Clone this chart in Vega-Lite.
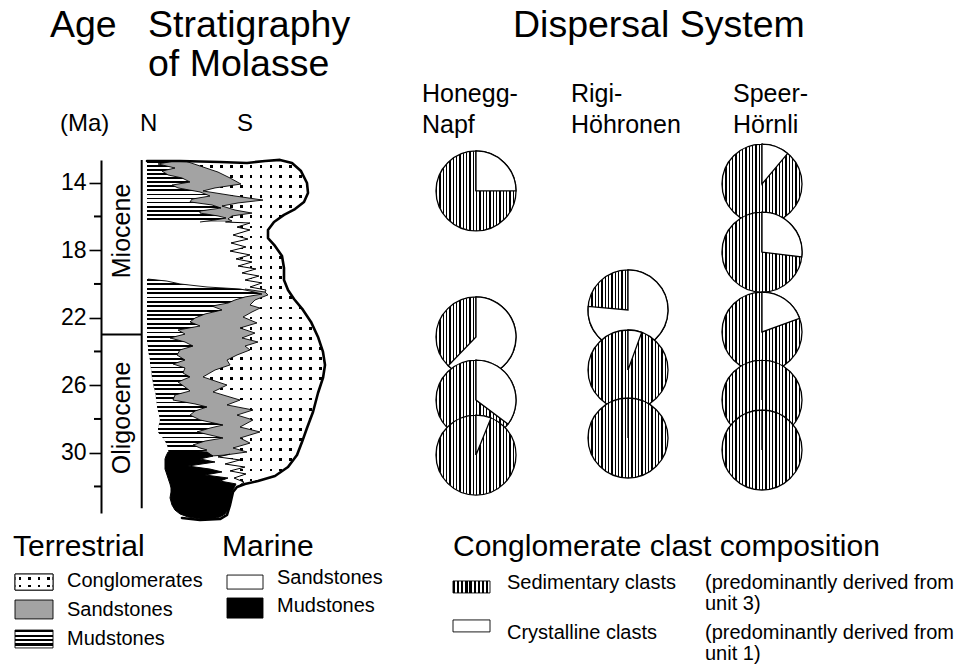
{
"$schema":"https://vega.github.io/schema/vega-lite/v6.json",
"width":879,"height":353,
"autosize":{"type":"none"},
"padding":{"left":101,"top":160,"right":0,"bottom":156},
"background":"white",
"config":{"view":{"stroke":null},"text":{"font":"Liberation Sans","color":"black"}},
"datasets":{
"cong":[
{"age":12.71,"u":4.6,"u2":18.5},{"age":12.83,"u":4.6,"u2":19.1},{"age":13.31,"u":4.6,"u2":20.0},{"age":14.02,"u":4.6,"u2":20.6},{"age":14.61,"u":4.6,"u2":20.7},{"age":15.14,"u":4.6,"u2":20.3},{"age":15.56,"u":4.6,"u2":19.4},{"age":15.91,"u":4.6,"u2":18.3},{"age":16.32,"u":4.6,"u2":17.3},
{"age":16.33,"u":12.5,"u2":17.3},{"age":16.39,"u":14.9,"u2":17.2},{"age":16.63,"u":13.6,"u2":16.9},{"age":16.80,"u":14.9,"u2":16.7},{"age":17.10,"u":13.2,"u2":16.7},{"age":17.34,"u":14.7,"u2":16.8},{"age":17.57,"u":13.0,"u2":17.1},{"age":17.81,"u":14.5,"u2":17.5},{"age":18.05,"u":12.9,"u2":17.8},{"age":18.28,"u":14.9,"u2":18.0},{"age":18.52,"u":13.5,"u2":18.15},{"age":18.70,"u":15.1,"u2":18.2},{"age":18.94,"u":13.7,"u2":18.3},{"age":19.11,"u":15.5,"u2":18.3},{"age":19.35,"u":14.1,"u2":18.3},{"age":19.53,"u":15.8,"u2":18.3},{"age":19.77,"u":14.4,"u2":18.3},{"age":19.94,"u":16.1,"u2":18.4},{"age":20.18,"u":14.9,"u2":18.6},{"age":20.36,"u":16.5,"u2":18.7},{"age":20.48,"u":16.4,"u2":18.8},
{"age":20.49,"u":4.6,"u2":18.8},{"age":20.89,"u":4.6,"u2":19.3},{"age":21.54,"u":4.6,"u2":20.2},{"age":22.25,"u":4.6,"u2":21.0},{"age":23.14,"u":4.6,"u2":21.7},{"age":23.68,"u":4.7,"u2":22.0},{"age":24.03,"u":4.8,"u2":22.2},{"age":24.80,"u":4.9,"u2":22.4},{"age":25.57,"u":5.1,"u2":22.2},{"age":26.46,"u":5.4,"u2":21.7},{"age":27.59,"u":5.7,"u2":21.2},{"age":28.54,"u":5.7,"u2":20.6},{"age":29.37,"u":6.5,"u2":20.1},{"age":30.07,"u":7.0,"u2":19.7},
{"age":30.08,"u":12.9,"u2":19.65},{"age":30.25,"u":11.7,"u2":19.4},{"age":30.43,"u":13.9,"u2":19.25},{"age":30.67,"u":12.4,"u2":18.95},{"age":30.85,"u":14.4,"u2":18.7},{"age":31.08,"u":12.9,"u2":18.15},{"age":31.26,"u":14.5,"u2":17.7},{"age":31.50,"u":13.3,"u2":17.0},{"age":31.74,"u":14.3,"u2":15.3},{"age":31.91,"u":13.9,"u2":14.1}
],
"sand":[
{"blk":1,"age":12.71,"u":4.6,"u2":8.4},{"blk":1,"age":13.01,"u":4.6,"u2":9.9},{"blk":1,"age":13.37,"u":4.6,"u2":11.7},{"blk":1,"age":13.72,"u":4.6,"u2":12.9},{"blk":1,"age":14.08,"u":4.6,"u2":14.0},{"blk":1,"age":14.31,"u":4.6,"u2":11.4},{"blk":1,"age":14.49,"u":4.6,"u2":10.2},{"blk":1,"age":14.79,"u":4.6,"u2":13.4},{"blk":1,"age":15.03,"u":4.6,"u2":16.2},{"blk":1,"age":15.20,"u":4.6,"u2":13.7},{"blk":1,"age":15.38,"u":4.6,"u2":12.1},{"blk":1,"age":15.62,"u":4.6,"u2":13.4},{"blk":1,"age":15.80,"u":4.6,"u2":15.1},{"blk":1,"age":15.97,"u":4.6,"u2":13.1},{"blk":1,"age":16.15,"u":4.6,"u2":12.7},{"blk":1,"age":16.27,"u":4.6,"u2":13.1},{"blk":1,"age":16.33,"u":4.6,"u2":12.4},
{"blk":2,"age":20.30,"u":4.6,"u2":14.4},{"blk":2,"age":20.48,"u":4.6,"u2":16.4},{"blk":2,"age":20.65,"u":4.6,"u2":16.7},{"blk":2,"age":20.95,"u":4.6,"u2":15.4},{"blk":2,"age":21.25,"u":4.6,"u2":14.9},{"blk":2,"age":21.43,"u":4.6,"u2":15.9},{"blk":2,"age":21.66,"u":4.6,"u2":15.1},{"blk":2,"age":21.96,"u":4.6,"u2":14.2},{"blk":2,"age":22.31,"u":4.6,"u2":15.6},{"blk":2,"age":22.61,"u":4.6,"u2":13.9},{"blk":2,"age":22.91,"u":4.6,"u2":15.4},{"blk":2,"age":23.20,"u":4.6,"u2":14.1},{"blk":2,"age":23.44,"u":4.6,"u2":15.7},{"blk":2,"age":23.68,"u":4.7,"u2":14.4},{"blk":2,"age":23.91,"u":4.7,"u2":14.9},{"blk":2,"age":24.21,"u":4.8,"u2":13.6},{"blk":2,"age":24.51,"u":4.9,"u2":12.6},{"blk":2,"age":24.80,"u":4.9,"u2":12.9},{"blk":2,"age":25.10,"u":5.0,"u2":11.4},{"blk":2,"age":25.51,"u":5.1,"u2":10.2},{"blk":2,"age":25.75,"u":5.2,"u2":11.4},{"blk":2,"age":25.99,"u":5.2,"u2":12.6},{"blk":2,"age":26.40,"u":5.4,"u2":11.2},{"blk":2,"age":26.88,"u":5.5,"u2":13.9},{"blk":2,"age":27.17,"u":5.6,"u2":12.6},{"blk":2,"age":27.47,"u":5.7,"u2":15.2},{"blk":2,"age":27.77,"u":5.8,"u2":13.6},{"blk":2,"age":28.06,"u":5.9,"u2":15.2},{"blk":2,"age":28.48,"u":5.7,"u2":13.9},{"blk":2,"age":28.77,"u":5.7,"u2":15.9},{"blk":2,"age":29.13,"u":6.2,"u2":13.9},{"blk":2,"age":29.43,"u":6.5,"u2":14.9},{"blk":2,"age":29.72,"u":6.7,"u2":13.2},{"blk":2,"age":29.96,"u":6.7,"u2":14.6},{"blk":2,"age":30.14,"u":6.9,"u2":12.4},{"blk":2,"age":30.20,"u":7.1,"u2":10.9}
],
"mud":[
{"blk":1,"age":12.71,"u":4.6,"u2":7.4},{"blk":1,"age":12.89,"u":4.6,"u2":5.7},{"blk":1,"age":13.13,"u":4.6,"u2":7.4},{"blk":1,"age":13.31,"u":4.6,"u2":6.1},{"blk":1,"age":13.54,"u":4.6,"u2":6.7},{"blk":1,"age":13.72,"u":4.6,"u2":8.1},{"blk":1,"age":13.96,"u":4.6,"u2":8.9},{"blk":1,"age":14.14,"u":4.6,"u2":7.1},{"blk":1,"age":14.31,"u":4.6,"u2":7.7},{"blk":1,"age":14.55,"u":4.6,"u2":9.9},{"blk":1,"age":14.79,"u":4.6,"u2":10.9},{"blk":1,"age":14.97,"u":4.6,"u2":9.1},{"blk":1,"age":15.14,"u":4.6,"u2":8.9},{"blk":1,"age":15.32,"u":4.6,"u2":11.1},{"blk":1,"age":15.50,"u":4.6,"u2":12.0},{"blk":1,"age":15.68,"u":4.6,"u2":9.9},{"blk":1,"age":15.80,"u":4.6,"u2":9.9},{"blk":1,"age":15.97,"u":4.6,"u2":11.7},{"blk":1,"age":16.09,"u":4.6,"u2":12.5},{"blk":1,"age":16.21,"u":4.6,"u2":11.4},{"blk":1,"age":16.33,"u":4.6,"u2":9.9},
{"blk":2,"age":19.71,"u":4.6,"u2":4.7},{"blk":2,"age":19.83,"u":4.6,"u2":6.6},{"blk":2,"age":20.00,"u":4.6,"u2":7.9},{"blk":2,"age":20.18,"u":4.6,"u2":10.6},{"blk":2,"age":20.30,"u":4.6,"u2":13.9},{"blk":2,"age":20.42,"u":4.6,"u2":14.9},{"blk":2,"age":20.60,"u":4.6,"u2":16.1},{"blk":2,"age":20.77,"u":4.6,"u2":14.4},{"blk":2,"age":20.95,"u":4.6,"u2":13.4},{"blk":2,"age":21.13,"u":4.6,"u2":12.7},{"blk":2,"age":21.31,"u":4.6,"u2":11.1},{"blk":2,"age":21.54,"u":4.6,"u2":12.1},{"blk":2,"age":21.78,"u":4.6,"u2":10.4},{"blk":2,"age":22.02,"u":4.6,"u2":9.4},{"blk":2,"age":22.25,"u":4.6,"u2":8.9},{"blk":2,"age":22.49,"u":4.6,"u2":9.9},{"blk":2,"age":22.73,"u":4.6,"u2":7.7},{"blk":2,"age":22.97,"u":4.6,"u2":8.4},{"blk":2,"age":23.20,"u":4.6,"u2":6.9},{"blk":2,"age":23.44,"u":4.6,"u2":8.4},{"blk":2,"age":23.68,"u":4.7,"u2":9.2},{"blk":2,"age":23.91,"u":4.7,"u2":7.9},{"blk":2,"age":24.21,"u":4.8,"u2":7.6},{"blk":2,"age":24.51,"u":4.9,"u2":8.4},{"blk":2,"age":24.74,"u":4.9,"u2":7.2},{"blk":2,"age":24.98,"u":5.0,"u2":8.4},{"blk":2,"age":25.28,"u":5.1,"u2":8.2},{"blk":2,"age":25.51,"u":5.1,"u2":8.9},{"blk":2,"age":25.81,"u":5.2,"u2":7.7},{"blk":2,"age":26.11,"u":5.3,"u2":8.4},{"blk":2,"age":26.34,"u":5.4,"u2":8.9},{"blk":2,"age":26.58,"u":5.5,"u2":7.4},{"blk":2,"age":26.88,"u":5.5,"u2":7.2},{"blk":2,"age":27.11,"u":5.6,"u2":9.4},{"blk":2,"age":27.29,"u":5.6,"u2":10.6},{"blk":2,"age":27.53,"u":5.7,"u2":9.4},{"blk":2,"age":27.77,"u":5.8,"u2":8.9},{"blk":2,"age":28.06,"u":5.9,"u2":9.9},{"blk":2,"age":28.36,"u":5.8,"u2":12.2},{"blk":2,"age":28.54,"u":5.7,"u2":10.9},{"blk":2,"age":28.77,"u":5.7,"u2":9.6},{"blk":2,"age":28.95,"u":5.9,"u2":10.9},{"blk":2,"age":29.13,"u":6.2,"u2":12.2},{"blk":2,"age":29.31,"u":6.4,"u2":10.4},{"blk":2,"age":29.54,"u":6.6,"u2":9.2},{"blk":2,"age":29.72,"u":6.7,"u2":9.9},{"blk":2,"age":29.84,"u":6.7,"u2":10.6},{"blk":2,"age":30.02,"u":6.9,"u2":9.4},{"blk":2,"age":30.08,"u":7.0,"u2":7.9}
],
"black":[
{"age":29.96,"u":6.7,"u2":10.6},{"age":30.20,"u":6.5,"u2":11.2},{"age":30.37,"u":6.4,"u2":9.9},{"age":30.55,"u":6.4,"u2":11.4},{"age":30.79,"u":6.4,"u2":8.7},{"age":30.97,"u":6.4,"u2":10.9},{"age":31.14,"u":6.5,"u2":12.1},{"age":31.32,"u":6.6,"u2":10.4},{"age":31.50,"u":6.7,"u2":12.7},{"age":31.68,"u":6.8,"u2":11.9},{"age":31.85,"u":6.9,"u2":13.5},{"age":32.09,"u":7.0,"u2":13.3},{"age":32.33,"u":7.0,"u2":13.1},{"age":32.68,"u":6.9,"u2":13.0},{"age":33.10,"u":7.1,"u2":12.9},{"age":33.40,"u":7.4,"u2":12.7},{"age":33.63,"u":7.9,"u2":12.4},{"age":33.81,"u":8.7,"u2":11.9},{"age":33.93,"u":9.9,"u2":11.1}
],
"zz":[
{"seg":1,"age":16.33,"u":12.5},{"seg":1,"age":16.39,"u":14.9},{"seg":1,"age":16.63,"u":13.6},{"seg":1,"age":16.80,"u":14.9},{"seg":1,"age":17.10,"u":13.2},{"seg":1,"age":17.34,"u":14.7},{"seg":1,"age":17.57,"u":13.0},{"seg":1,"age":17.81,"u":14.5},{"seg":1,"age":18.05,"u":12.9},{"seg":1,"age":18.28,"u":14.9},{"seg":1,"age":18.52,"u":13.5},{"seg":1,"age":18.70,"u":15.1},{"seg":1,"age":18.94,"u":13.7},{"seg":1,"age":19.11,"u":15.5},{"seg":1,"age":19.35,"u":14.1},{"seg":1,"age":19.53,"u":15.8},{"seg":1,"age":19.77,"u":14.4},{"seg":1,"age":19.94,"u":16.1},{"seg":1,"age":20.18,"u":14.9},{"seg":1,"age":20.36,"u":16.5},{"seg":1,"age":20.48,"u":16.4},
{"seg":2,"age":30.08,"u":12.9},{"seg":2,"age":30.25,"u":11.7},{"seg":2,"age":30.43,"u":13.9},{"seg":2,"age":30.67,"u":12.4},{"seg":2,"age":30.85,"u":14.4},{"seg":2,"age":31.08,"u":12.9},{"seg":2,"age":31.26,"u":14.5},{"seg":2,"age":31.50,"u":13.3},{"seg":2,"age":31.74,"u":14.3},{"seg":2,"age":31.91,"u":13.9}
],
"env":[
{"i":1,"u":4.6,"age":12.71},{"i":2,"u":7.9,"age":12.71},{"i":3,"u":11.9,"age":12.77},{"i":4,"u":14.6,"age":12.83},{"i":5,"u":16.4,"age":12.71},{"i":6,"u":17.9,"age":12.65},{"i":7,"u":19.1,"age":12.83},{"i":8,"u":20.0,"age":13.31},{"i":9,"u":20.6,"age":14.02},{"i":10,"u":20.7,"age":14.61},{"i":11,"u":20.3,"age":15.14},{"i":12,"u":19.4,"age":15.56},{"i":13,"u":18.3,"age":15.91},{"i":14,"u":17.3,"age":16.33},{"i":15,"u":16.7,"age":16.80},{"i":16,"u":16.7,"age":17.28},{"i":17,"u":17.4,"age":17.75},{"i":18,"u":18.1,"age":18.34},{"i":19,"u":18.3,"age":19.05},{"i":20,"u":18.3,"age":19.77},{"i":21,"u":18.7,"age":20.36},{"i":22,"u":19.3,"age":20.89},{"i":23,"u":20.2,"age":21.54},{"i":24,"u":21.0,"age":22.25},{"i":25,"u":21.7,"age":23.14},{"i":26,"u":22.2,"age":24.03},{"i":27,"u":22.4,"age":24.80},{"i":28,"u":22.2,"age":25.57},{"i":29,"u":21.7,"age":26.46},{"i":30,"u":21.2,"age":27.59},{"i":31,"u":20.6,"age":28.54},{"i":32,"u":20.1,"age":29.37},{"i":33,"u":19.6,"age":30.14},{"i":34,"u":18.7,"age":30.85},{"i":35,"u":17.4,"age":31.38},{"i":36,"u":15.7,"age":31.68},{"i":37,"u":14.4,"age":31.85},{"i":38,"u":13.6,"age":32.03},{"i":39,"u":13.2,"age":32.33},{"i":40,"u":12.9,"age":33.10},{"i":41,"u":12.6,"age":33.69},{"i":42,"u":11.9,"age":33.93},{"i":43,"u":9.9,"age":33.99},{"i":44,"u":8.1,"age":33.87}
],
"frame":[
{"u":4.07,"u2":4.07,"age":12.655,"age2":33.29},{"u":0,"u2":4.07,"age":23.0,"age2":23.0},
{"u":-0.7,"u2":0,"age":16,"age2":16},{"u":-0.7,"u2":0,"age":20,"age2":20},{"u":-0.7,"u2":0,"age":24,"age2":24},{"u":-0.7,"u2":0,"age":28,"age2":28},{"u":-0.7,"u2":0,"age":32,"age2":32}
],
"pies":[
{"sys":"Honegg-Napf","u":37.5,"age":14.49,"k":"sed","a0":0,"a1":360},{"sys":"Honegg-Napf","u":37.5,"age":14.49,"k":"cry","a0":0,"a1":90},
{"sys":"Honegg-Napf","u":37.5,"age":23.14,"k":"sed","a0":0,"a1":360},{"sys":"Honegg-Napf","u":37.5,"age":23.14,"k":"cry","a0":0,"a1":224},
{"sys":"Honegg-Napf","u":37.5,"age":26.88,"k":"sed","a0":0,"a1":360},{"sys":"Honegg-Napf","u":37.5,"age":26.88,"k":"cry","a0":0,"a1":127},
{"sys":"Honegg-Napf","u":37.5,"age":30.14,"k":"sed","a0":0,"a1":360},{"sys":"Honegg-Napf","u":37.5,"age":30.14,"k":"cry","a0":0,"a1":22},
{"sys":"Rigi-Höhronen","u":52.7,"age":21.54,"k":"sed","a0":0,"a1":360},{"sys":"Rigi-Höhronen","u":52.7,"age":21.54,"k":"cry","a0":0,"a1":275},
{"sys":"Rigi-Höhronen","u":52.7,"age":25.10,"k":"sed","a0":0,"a1":360},{"sys":"Rigi-Höhronen","u":52.7,"age":25.10,"k":"cry","a0":0,"a1":20},
{"sys":"Rigi-Höhronen","u":52.7,"age":29.13,"k":"sed","a0":0,"a1":360},
{"sys":"Speer-Hörnli","u":66.1,"age":14.08,"k":"sed","a0":0,"a1":360},{"sys":"Speer-Hörnli","u":66.1,"age":14.08,"k":"cry","a0":0,"a1":40},
{"sys":"Speer-Hörnli","u":66.1,"age":18.11,"k":"sed","a0":0,"a1":360},{"sys":"Speer-Hörnli","u":66.1,"age":18.11,"k":"cry","a0":0,"a1":97},
{"sys":"Speer-Hörnli","u":66.1,"age":22.85,"k":"sed","a0":0,"a1":360},{"sys":"Speer-Hörnli","u":66.1,"age":22.85,"k":"cry","a0":0,"a1":70},
{"sys":"Speer-Hörnli","u":66.1,"age":26.88,"k":"sed","a0":0,"a1":360},
{"sys":"Speer-Hörnli","u":66.1,"age":29.84,"k":"sed","a0":0,"a1":360}
],
"epochs":[{"t":"Miocene","u":2.07,"age":16.86},{"t":"Oligocene","u":2.07,"age":27.94}],
"lab":[
{"role":"head","t":"Age","u":-5.1,"age":5.37},{"role":"head","t":"Stratigraphy","u":4.7,"age":5.37},{"role":"head","t":"of Molasse","u":4.7,"age":7.68},{"role":"head","t":"Dispersal System","u":41.2,"age":5.37},
{"role":"sub","t":"(Ma)","u":-4.1,"age":10.94},{"role":"sub","t":"N","u":3.9,"age":10.94},{"role":"sub","t":"S","u":13.6,"age":10.94},
{"role":"col","t":"Honegg-","u":32.1,"age":9.22},{"role":"col","t":"Napf","u":32.1,"age":11.05},{"role":"col","t":"Rigi-","u":47.0,"age":9.22},{"role":"col","t":"Höhronen","u":47.0,"age":11.05},{"role":"col","t":"Speer-","u":63.2,"age":9.22},{"role":"col","t":"Hörnli","u":63.2,"age":11.05},
{"role":"lh","t":"Terrestrial","u":-8.8,"age":36.12},{"role":"lh","t":"Marine","u":12.1,"age":36.12},{"role":"lh","t":"Conglomerate clast composition","u":35.2,"age":36.12},
{"role":"li","t":"Conglomerates","u":-3.4,"age":37.96},{"role":"li","t":"Sandstones","u":-3.4,"age":39.68},{"role":"li","t":"Mudstones","u":-3.4,"age":41.40},{"role":"li","t":"Sandstones","u":17.6,"age":37.78},{"role":"li","t":"Mudstones","u":17.6,"age":39.44},
{"role":"ri","t":"Sedimentary clasts","u":40.6,"age":38.08},{"role":"ri","t":"(predominantly derived from","u":60.4,"age":38.08},{"role":"ri","t":"unit 3)","u":60.4,"age":39.30},{"role":"ri","t":"Crystalline clasts","u":40.6,"age":41.04},{"role":"ri","t":"(predominantly derived from","u":60.4,"age":41.04},{"role":"ri","t":"unit 1)","u":60.4,"age":42.26}
],
"sw":[
{"kind":"cong","u":-8.6,"u2":-4.8,"age":37.19,"age2":38.14},{"kind":"sand","u":-8.6,"u2":-4.8,"age":38.73,"age2":39.85},{"kind":"mud","u":-8.6,"u2":-4.8,"age":40.51,"age2":41.57},
{"kind":"msand","u":12.6,"u2":16.2,"age":37.25,"age2":38.08},{"kind":"mmud","u":12.6,"u2":16.2,"age":38.61,"age2":39.80},
{"kind":"sed","u":35.2,"u2":38.9,"age":37.60,"age2":38.31},{"kind":"cry","u":35.2,"u2":38.9,"age":39.91,"age2":40.62}
]
},
"encoding":{
"x":{"field":"u","type":"quantitative","stack":null,"scale":{"domain":[0,87.9],"nice":false,"zero":false},"axis":null},
"y":{"field":"age","type":"quantitative","scale":{"domain":[12.655,33.573],"reverse":true,"nice":false,"zero":false},
"axis":{"title":null,"values":[14,18,22,26,30],"grid":false,"domainColor":"black","domainWidth":2,"tickColor":"black","tickWidth":1.6,"tickSize":12,"labelFont":"Liberation Sans","labelFontSize":23,"labelColor":"black","labelPadding":3}}
},
"layer":[
{"data":{"name":"cong"},"mark":{"type":"area","orient":"horizontal","fill":{"gradient":"linear","x1":0,"y1":0,"x2":1,"y2":0,"stops":[
{"offset":0,"color":"#fff"},
{"offset":0.022,"color":"#fff"},{"offset":0.022,"color":"#000"},{"offset":0.037,"color":"#000"},{"offset":0.037,"color":"#fff"},
{"offset":0.0776,"color":"#fff"},{"offset":0.0776,"color":"#000"},{"offset":0.0926,"color":"#000"},{"offset":0.0926,"color":"#fff"},
{"offset":0.1331,"color":"#fff"},{"offset":0.1331,"color":"#000"},{"offset":0.1481,"color":"#000"},{"offset":0.1481,"color":"#fff"},
{"offset":0.1887,"color":"#fff"},{"offset":0.1887,"color":"#000"},{"offset":0.2037,"color":"#000"},{"offset":0.2037,"color":"#fff"},
{"offset":0.2442,"color":"#fff"},{"offset":0.2442,"color":"#000"},{"offset":0.2592,"color":"#000"},{"offset":0.2592,"color":"#fff"},
{"offset":0.2998,"color":"#fff"},{"offset":0.2998,"color":"#000"},{"offset":0.3148,"color":"#000"},{"offset":0.3148,"color":"#fff"},
{"offset":0.3553,"color":"#fff"},{"offset":0.3553,"color":"#000"},{"offset":0.3703,"color":"#000"},{"offset":0.3703,"color":"#fff"},
{"offset":0.4109,"color":"#fff"},{"offset":0.4109,"color":"#000"},{"offset":0.4259,"color":"#000"},{"offset":0.4259,"color":"#fff"},
{"offset":0.4664,"color":"#fff"},{"offset":0.4664,"color":"#000"},{"offset":0.4814,"color":"#000"},{"offset":0.4814,"color":"#fff"},
{"offset":0.522,"color":"#fff"},{"offset":0.522,"color":"#000"},{"offset":0.537,"color":"#000"},{"offset":0.537,"color":"#fff"},
{"offset":0.5776,"color":"#fff"},{"offset":0.5776,"color":"#000"},{"offset":0.5926,"color":"#000"},{"offset":0.5926,"color":"#fff"},
{"offset":0.6331,"color":"#fff"},{"offset":0.6331,"color":"#000"},{"offset":0.6481,"color":"#000"},{"offset":0.6481,"color":"#fff"},
{"offset":0.6887,"color":"#fff"},{"offset":0.6887,"color":"#000"},{"offset":0.7037,"color":"#000"},{"offset":0.7037,"color":"#fff"},
{"offset":0.7442,"color":"#fff"},{"offset":0.7442,"color":"#000"},{"offset":0.7592,"color":"#000"},{"offset":0.7592,"color":"#fff"},
{"offset":0.7998,"color":"#fff"},{"offset":0.7998,"color":"#000"},{"offset":0.8148,"color":"#000"},{"offset":0.8148,"color":"#fff"},
{"offset":0.8553,"color":"#fff"},{"offset":0.8553,"color":"#000"},{"offset":0.8703,"color":"#000"},{"offset":0.8703,"color":"#fff"},
{"offset":0.9109,"color":"#fff"},{"offset":0.9109,"color":"#000"},{"offset":0.9259,"color":"#000"},{"offset":0.9259,"color":"#fff"},
{"offset":0.9664,"color":"#fff"},{"offset":0.9664,"color":"#000"},{"offset":0.9814,"color":"#000"},{"offset":0.9814,"color":"#fff"},
{"offset":1,"color":"#fff"}]}},"encoding":{"x2":{"field":"u2"}}},
{"data":{"name":"cong"},"mark":{"type":"area","orient":"horizontal","fill":{"gradient":"linear","x1":0,"y1":0,"x2":0,"y2":1,"stops":[
{"offset":0,"color":"#fff"},
{"offset":0.012,"color":"#fff"},{"offset":0.012,"color":"rgba(255,255,255,0)"},{"offset":0.0205,"color":"rgba(255,255,255,0)"},{"offset":0.0205,"color":"#fff"},
{"offset":0.04325,"color":"#fff"},{"offset":0.04325,"color":"rgba(255,255,255,0)"},{"offset":0.05175,"color":"rgba(255,255,255,0)"},{"offset":0.05175,"color":"#fff"},
{"offset":0.0745,"color":"#fff"},{"offset":0.0745,"color":"rgba(255,255,255,0)"},{"offset":0.083,"color":"rgba(255,255,255,0)"},{"offset":0.083,"color":"#fff"},
{"offset":0.10575,"color":"#fff"},{"offset":0.10575,"color":"rgba(255,255,255,0)"},{"offset":0.11425,"color":"rgba(255,255,255,0)"},{"offset":0.11425,"color":"#fff"},
{"offset":0.137,"color":"#fff"},{"offset":0.137,"color":"rgba(255,255,255,0)"},{"offset":0.1455,"color":"rgba(255,255,255,0)"},{"offset":0.1455,"color":"#fff"},
{"offset":0.16825,"color":"#fff"},{"offset":0.16825,"color":"rgba(255,255,255,0)"},{"offset":0.17675,"color":"rgba(255,255,255,0)"},{"offset":0.17675,"color":"#fff"},
{"offset":0.1995,"color":"#fff"},{"offset":0.1995,"color":"rgba(255,255,255,0)"},{"offset":0.208,"color":"rgba(255,255,255,0)"},{"offset":0.208,"color":"#fff"},
{"offset":0.23075,"color":"#fff"},{"offset":0.23075,"color":"rgba(255,255,255,0)"},{"offset":0.23925,"color":"rgba(255,255,255,0)"},{"offset":0.23925,"color":"#fff"},
{"offset":0.262,"color":"#fff"},{"offset":0.262,"color":"rgba(255,255,255,0)"},{"offset":0.2705,"color":"rgba(255,255,255,0)"},{"offset":0.2705,"color":"#fff"},
{"offset":0.29325,"color":"#fff"},{"offset":0.29325,"color":"rgba(255,255,255,0)"},{"offset":0.30175,"color":"rgba(255,255,255,0)"},{"offset":0.30175,"color":"#fff"},
{"offset":0.3245,"color":"#fff"},{"offset":0.3245,"color":"rgba(255,255,255,0)"},{"offset":0.333,"color":"rgba(255,255,255,0)"},{"offset":0.333,"color":"#fff"},
{"offset":0.35575,"color":"#fff"},{"offset":0.35575,"color":"rgba(255,255,255,0)"},{"offset":0.36425,"color":"rgba(255,255,255,0)"},{"offset":0.36425,"color":"#fff"},
{"offset":0.387,"color":"#fff"},{"offset":0.387,"color":"rgba(255,255,255,0)"},{"offset":0.3955,"color":"rgba(255,255,255,0)"},{"offset":0.3955,"color":"#fff"},
{"offset":0.41825,"color":"#fff"},{"offset":0.41825,"color":"rgba(255,255,255,0)"},{"offset":0.42675,"color":"rgba(255,255,255,0)"},{"offset":0.42675,"color":"#fff"},
{"offset":0.4495,"color":"#fff"},{"offset":0.4495,"color":"rgba(255,255,255,0)"},{"offset":0.458,"color":"rgba(255,255,255,0)"},{"offset":0.458,"color":"#fff"},
{"offset":0.48075,"color":"#fff"},{"offset":0.48075,"color":"rgba(255,255,255,0)"},{"offset":0.48925,"color":"rgba(255,255,255,0)"},{"offset":0.48925,"color":"#fff"},
{"offset":0.512,"color":"#fff"},{"offset":0.512,"color":"rgba(255,255,255,0)"},{"offset":0.5205,"color":"rgba(255,255,255,0)"},{"offset":0.5205,"color":"#fff"},
{"offset":0.54325,"color":"#fff"},{"offset":0.54325,"color":"rgba(255,255,255,0)"},{"offset":0.55175,"color":"rgba(255,255,255,0)"},{"offset":0.55175,"color":"#fff"},
{"offset":0.5745,"color":"#fff"},{"offset":0.5745,"color":"rgba(255,255,255,0)"},{"offset":0.583,"color":"rgba(255,255,255,0)"},{"offset":0.583,"color":"#fff"},
{"offset":0.60575,"color":"#fff"},{"offset":0.60575,"color":"rgba(255,255,255,0)"},{"offset":0.61425,"color":"rgba(255,255,255,0)"},{"offset":0.61425,"color":"#fff"},
{"offset":0.637,"color":"#fff"},{"offset":0.637,"color":"rgba(255,255,255,0)"},{"offset":0.6455,"color":"rgba(255,255,255,0)"},{"offset":0.6455,"color":"#fff"},
{"offset":0.66825,"color":"#fff"},{"offset":0.66825,"color":"rgba(255,255,255,0)"},{"offset":0.67675,"color":"rgba(255,255,255,0)"},{"offset":0.67675,"color":"#fff"},
{"offset":0.6995,"color":"#fff"},{"offset":0.6995,"color":"rgba(255,255,255,0)"},{"offset":0.708,"color":"rgba(255,255,255,0)"},{"offset":0.708,"color":"#fff"},
{"offset":0.73075,"color":"#fff"},{"offset":0.73075,"color":"rgba(255,255,255,0)"},{"offset":0.73925,"color":"rgba(255,255,255,0)"},{"offset":0.73925,"color":"#fff"},
{"offset":0.762,"color":"#fff"},{"offset":0.762,"color":"rgba(255,255,255,0)"},{"offset":0.7705,"color":"rgba(255,255,255,0)"},{"offset":0.7705,"color":"#fff"},
{"offset":0.79325,"color":"#fff"},{"offset":0.79325,"color":"rgba(255,255,255,0)"},{"offset":0.80175,"color":"rgba(255,255,255,0)"},{"offset":0.80175,"color":"#fff"},
{"offset":0.8245,"color":"#fff"},{"offset":0.8245,"color":"rgba(255,255,255,0)"},{"offset":0.833,"color":"rgba(255,255,255,0)"},{"offset":0.833,"color":"#fff"},
{"offset":0.85575,"color":"#fff"},{"offset":0.85575,"color":"rgba(255,255,255,0)"},{"offset":0.86425,"color":"rgba(255,255,255,0)"},{"offset":0.86425,"color":"#fff"},
{"offset":0.887,"color":"#fff"},{"offset":0.887,"color":"rgba(255,255,255,0)"},{"offset":0.8955,"color":"rgba(255,255,255,0)"},{"offset":0.8955,"color":"#fff"},
{"offset":0.91825,"color":"#fff"},{"offset":0.91825,"color":"rgba(255,255,255,0)"},{"offset":0.92675,"color":"rgba(255,255,255,0)"},{"offset":0.92675,"color":"#fff"},
{"offset":0.9495,"color":"#fff"},{"offset":0.9495,"color":"rgba(255,255,255,0)"},{"offset":0.958,"color":"rgba(255,255,255,0)"},{"offset":0.958,"color":"#fff"},
{"offset":0.98075,"color":"#fff"},{"offset":0.98075,"color":"rgba(255,255,255,0)"},{"offset":0.98925,"color":"rgba(255,255,255,0)"},{"offset":0.98925,"color":"#fff"},
{"offset":1,"color":"#fff"}]}},"encoding":{"x2":{"field":"u2"}}},
{"data":{"name":"sand"},"mark":{"type":"area","orient":"horizontal","fill":"#a3a3a3"},"encoding":{"x2":{"field":"u2"},"detail":{"field":"blk","type":"nominal"}}},
{"data":{"name":"mud"},"transform":[{"filter":"datum.blk === 1"}],"mark":{"type":"area","orient":"horizontal","fill":{"gradient":"linear","x1":0,"y1":0,"x2":0,"y2":1,"stops":[
{"offset":0,"color":"#000"},{"offset":0.03,"color":"#000"},{"offset":0.03,"color":"#fff"},{"offset":0.0667,"color":"#fff"},
{"offset":0.0667,"color":"#000"},{"offset":0.0967,"color":"#000"},{"offset":0.0967,"color":"#fff"},{"offset":0.1333,"color":"#fff"},
{"offset":0.1333,"color":"#000"},{"offset":0.1633,"color":"#000"},{"offset":0.1633,"color":"#fff"},{"offset":0.2,"color":"#fff"},
{"offset":0.2,"color":"#000"},{"offset":0.23,"color":"#000"},{"offset":0.23,"color":"#fff"},{"offset":0.2667,"color":"#fff"},
{"offset":0.2667,"color":"#000"},{"offset":0.2967,"color":"#000"},{"offset":0.2967,"color":"#fff"},{"offset":0.3333,"color":"#fff"},
{"offset":0.3333,"color":"#000"},{"offset":0.3633,"color":"#000"},{"offset":0.3633,"color":"#fff"},{"offset":0.4,"color":"#fff"},
{"offset":0.4,"color":"#000"},{"offset":0.43,"color":"#000"},{"offset":0.43,"color":"#fff"},{"offset":0.4667,"color":"#fff"},
{"offset":0.4667,"color":"#000"},{"offset":0.4967,"color":"#000"},{"offset":0.4967,"color":"#fff"},{"offset":0.5333,"color":"#fff"},
{"offset":0.5333,"color":"#000"},{"offset":0.5633,"color":"#000"},{"offset":0.5633,"color":"#fff"},{"offset":0.6,"color":"#fff"},
{"offset":0.6,"color":"#000"},{"offset":0.63,"color":"#000"},{"offset":0.63,"color":"#fff"},{"offset":0.6667,"color":"#fff"},
{"offset":0.6667,"color":"#000"},{"offset":0.6967,"color":"#000"},{"offset":0.6967,"color":"#fff"},{"offset":0.7333,"color":"#fff"},
{"offset":0.7333,"color":"#000"},{"offset":0.7633,"color":"#000"},{"offset":0.7633,"color":"#fff"},{"offset":0.8,"color":"#fff"},
{"offset":0.8,"color":"#000"},{"offset":0.83,"color":"#000"},{"offset":0.83,"color":"#fff"},{"offset":0.8667,"color":"#fff"},
{"offset":0.8667,"color":"#000"},{"offset":0.8967,"color":"#000"},{"offset":0.8967,"color":"#fff"},{"offset":0.9333,"color":"#fff"},
{"offset":0.9333,"color":"#000"},{"offset":0.9633,"color":"#000"},{"offset":0.9633,"color":"#fff"},{"offset":1,"color":"#fff"}]}},"encoding":{"x2":{"field":"u2"}}},
{"data":{"name":"mud"},"transform":[{"filter":"datum.blk === 2"}],"mark":{"type":"area","orient":"horizontal","fill":{"gradient":"linear","x1":0,"y1":0,"x2":0,"y2":1,"stops":[
{"offset":0,"color":"#000"},{"offset":0.0105,"color":"#000"},{"offset":0.0105,"color":"#fff"},{"offset":0.025,"color":"#fff"},
{"offset":0.025,"color":"#000"},{"offset":0.0355,"color":"#000"},{"offset":0.0355,"color":"#fff"},{"offset":0.05,"color":"#fff"},
{"offset":0.05,"color":"#000"},{"offset":0.0605,"color":"#000"},{"offset":0.0605,"color":"#fff"},{"offset":0.075,"color":"#fff"},
{"offset":0.075,"color":"#000"},{"offset":0.0855,"color":"#000"},{"offset":0.0855,"color":"#fff"},{"offset":0.1,"color":"#fff"},
{"offset":0.1,"color":"#000"},{"offset":0.1105,"color":"#000"},{"offset":0.1105,"color":"#fff"},{"offset":0.125,"color":"#fff"},
{"offset":0.125,"color":"#000"},{"offset":0.1355,"color":"#000"},{"offset":0.1355,"color":"#fff"},{"offset":0.15,"color":"#fff"},
{"offset":0.15,"color":"#000"},{"offset":0.1605,"color":"#000"},{"offset":0.1605,"color":"#fff"},{"offset":0.175,"color":"#fff"},
{"offset":0.175,"color":"#000"},{"offset":0.1855,"color":"#000"},{"offset":0.1855,"color":"#fff"},{"offset":0.2,"color":"#fff"},
{"offset":0.2,"color":"#000"},{"offset":0.2105,"color":"#000"},{"offset":0.2105,"color":"#fff"},{"offset":0.225,"color":"#fff"},
{"offset":0.225,"color":"#000"},{"offset":0.2355,"color":"#000"},{"offset":0.2355,"color":"#fff"},{"offset":0.25,"color":"#fff"},
{"offset":0.25,"color":"#000"},{"offset":0.2605,"color":"#000"},{"offset":0.2605,"color":"#fff"},{"offset":0.275,"color":"#fff"},
{"offset":0.275,"color":"#000"},{"offset":0.2855,"color":"#000"},{"offset":0.2855,"color":"#fff"},{"offset":0.3,"color":"#fff"},
{"offset":0.3,"color":"#000"},{"offset":0.3105,"color":"#000"},{"offset":0.3105,"color":"#fff"},{"offset":0.325,"color":"#fff"},
{"offset":0.325,"color":"#000"},{"offset":0.3355,"color":"#000"},{"offset":0.3355,"color":"#fff"},{"offset":0.35,"color":"#fff"},
{"offset":0.35,"color":"#000"},{"offset":0.3605,"color":"#000"},{"offset":0.3605,"color":"#fff"},{"offset":0.375,"color":"#fff"},
{"offset":0.375,"color":"#000"},{"offset":0.3855,"color":"#000"},{"offset":0.3855,"color":"#fff"},{"offset":0.4,"color":"#fff"},
{"offset":0.4,"color":"#000"},{"offset":0.4105,"color":"#000"},{"offset":0.4105,"color":"#fff"},{"offset":0.425,"color":"#fff"},
{"offset":0.425,"color":"#000"},{"offset":0.4355,"color":"#000"},{"offset":0.4355,"color":"#fff"},{"offset":0.45,"color":"#fff"},
{"offset":0.45,"color":"#000"},{"offset":0.4605,"color":"#000"},{"offset":0.4605,"color":"#fff"},{"offset":0.475,"color":"#fff"},
{"offset":0.475,"color":"#000"},{"offset":0.4855,"color":"#000"},{"offset":0.4855,"color":"#fff"},{"offset":0.5,"color":"#fff"},
{"offset":0.5,"color":"#000"},{"offset":0.5105,"color":"#000"},{"offset":0.5105,"color":"#fff"},{"offset":0.525,"color":"#fff"},
{"offset":0.525,"color":"#000"},{"offset":0.5355,"color":"#000"},{"offset":0.5355,"color":"#fff"},{"offset":0.55,"color":"#fff"},
{"offset":0.55,"color":"#000"},{"offset":0.5605,"color":"#000"},{"offset":0.5605,"color":"#fff"},{"offset":0.575,"color":"#fff"},
{"offset":0.575,"color":"#000"},{"offset":0.5855,"color":"#000"},{"offset":0.5855,"color":"#fff"},{"offset":0.6,"color":"#fff"},
{"offset":0.6,"color":"#000"},{"offset":0.6105,"color":"#000"},{"offset":0.6105,"color":"#fff"},{"offset":0.625,"color":"#fff"},
{"offset":0.625,"color":"#000"},{"offset":0.6355,"color":"#000"},{"offset":0.6355,"color":"#fff"},{"offset":0.65,"color":"#fff"},
{"offset":0.65,"color":"#000"},{"offset":0.6605,"color":"#000"},{"offset":0.6605,"color":"#fff"},{"offset":0.675,"color":"#fff"},
{"offset":0.675,"color":"#000"},{"offset":0.6855,"color":"#000"},{"offset":0.6855,"color":"#fff"},{"offset":0.7,"color":"#fff"},
{"offset":0.7,"color":"#000"},{"offset":0.7105,"color":"#000"},{"offset":0.7105,"color":"#fff"},{"offset":0.725,"color":"#fff"},
{"offset":0.725,"color":"#000"},{"offset":0.7355,"color":"#000"},{"offset":0.7355,"color":"#fff"},{"offset":0.75,"color":"#fff"},
{"offset":0.75,"color":"#000"},{"offset":0.7605,"color":"#000"},{"offset":0.7605,"color":"#fff"},{"offset":0.775,"color":"#fff"},
{"offset":0.775,"color":"#000"},{"offset":0.7855,"color":"#000"},{"offset":0.7855,"color":"#fff"},{"offset":0.8,"color":"#fff"},
{"offset":0.8,"color":"#000"},{"offset":0.8105,"color":"#000"},{"offset":0.8105,"color":"#fff"},{"offset":0.825,"color":"#fff"},
{"offset":0.825,"color":"#000"},{"offset":0.8355,"color":"#000"},{"offset":0.8355,"color":"#fff"},{"offset":0.85,"color":"#fff"},
{"offset":0.85,"color":"#000"},{"offset":0.8605,"color":"#000"},{"offset":0.8605,"color":"#fff"},{"offset":0.875,"color":"#fff"},
{"offset":0.875,"color":"#000"},{"offset":0.8855,"color":"#000"},{"offset":0.8855,"color":"#fff"},{"offset":0.9,"color":"#fff"},
{"offset":0.9,"color":"#000"},{"offset":0.9105,"color":"#000"},{"offset":0.9105,"color":"#fff"},{"offset":0.925,"color":"#fff"},
{"offset":0.925,"color":"#000"},{"offset":0.9355,"color":"#000"},{"offset":0.9355,"color":"#fff"},{"offset":0.95,"color":"#fff"},
{"offset":0.95,"color":"#000"},{"offset":0.9605,"color":"#000"},{"offset":0.9605,"color":"#fff"},{"offset":0.975,"color":"#fff"},
{"offset":0.975,"color":"#000"},{"offset":0.9855,"color":"#000"},{"offset":0.9855,"color":"#fff"},{"offset":1,"color":"#fff"}]}},"encoding":{"x2":{"field":"u2"}}},
{"data":{"name":"black"},"mark":{"type":"area","orient":"horizontal","fill":"black","stroke":"black","strokeWidth":1},"encoding":{"x2":{"field":"u2"}}},
{"data":{"name":"sand"},"mark":{"type":"line","color":"black","strokeWidth":0.9},"encoding":{"x":{"field":"u2","type":"quantitative","axis":null},"detail":{"field":"blk","type":"nominal"},"order":{"field":"age","type":"quantitative"}}},
{"data":{"name":"mud"},"mark":{"type":"line","color":"black","strokeWidth":0.9},"encoding":{"x":{"field":"u2","type":"quantitative","axis":null},"detail":{"field":"blk","type":"nominal"},"order":{"field":"age","type":"quantitative"}}},
{"data":{"name":"zz"},"mark":{"type":"line","color":"black","strokeWidth":1},"encoding":{"detail":{"field":"seg","type":"nominal"},"order":{"field":"age","type":"quantitative"}}},
{"data":{"name":"env"},"mark":{"type":"line","color":"black","strokeWidth":2.6,"strokeJoin":"round","strokeCap":"round"},"encoding":{"order":{"field":"i","type":"quantitative"}}},
{"data":{"name":"frame"},"mark":{"type":"rule","color":"black","strokeWidth":2},"encoding":{"x2":{"field":"u2"},"y2":{"field":"age2"}}},
{"data":{"name":"pies"},"mark":{"type":"arc","radius":40,"stroke":"black","strokeWidth":1.3},"encoding":{
"theta":{"field":"a0","type":"quantitative","stack":null,"scale":{"domain":[0,360],"range":[0,6.283185]}},
"theta2":{"field":"a1"},
"fill":{"condition":{"test":"datum.k === 'sed'","value":{"gradient":"linear","x1":0,"y1":0,"x2":1,"y2":0,"stops":[
{"offset":0,"color":"#000"},{"offset":0.0167,"color":"#000"},{"offset":0.0167,"color":"#fff"},{"offset":0.0417,"color":"#fff"},
{"offset":0.0417,"color":"#000"},{"offset":0.0583,"color":"#000"},{"offset":0.0583,"color":"#fff"},{"offset":0.0833,"color":"#fff"},
{"offset":0.0833,"color":"#000"},{"offset":0.1,"color":"#000"},{"offset":0.1,"color":"#fff"},{"offset":0.125,"color":"#fff"},
{"offset":0.125,"color":"#000"},{"offset":0.1417,"color":"#000"},{"offset":0.1417,"color":"#fff"},{"offset":0.1667,"color":"#fff"},
{"offset":0.1667,"color":"#000"},{"offset":0.1833,"color":"#000"},{"offset":0.1833,"color":"#fff"},{"offset":0.2083,"color":"#fff"},
{"offset":0.2083,"color":"#000"},{"offset":0.225,"color":"#000"},{"offset":0.225,"color":"#fff"},{"offset":0.25,"color":"#fff"},
{"offset":0.25,"color":"#000"},{"offset":0.2667,"color":"#000"},{"offset":0.2667,"color":"#fff"},{"offset":0.2917,"color":"#fff"},
{"offset":0.2917,"color":"#000"},{"offset":0.3083,"color":"#000"},{"offset":0.3083,"color":"#fff"},{"offset":0.3333,"color":"#fff"},
{"offset":0.3333,"color":"#000"},{"offset":0.35,"color":"#000"},{"offset":0.35,"color":"#fff"},{"offset":0.375,"color":"#fff"},
{"offset":0.375,"color":"#000"},{"offset":0.3917,"color":"#000"},{"offset":0.3917,"color":"#fff"},{"offset":0.4167,"color":"#fff"},
{"offset":0.4167,"color":"#000"},{"offset":0.4333,"color":"#000"},{"offset":0.4333,"color":"#fff"},{"offset":0.4583,"color":"#fff"},
{"offset":0.4583,"color":"#000"},{"offset":0.475,"color":"#000"},{"offset":0.475,"color":"#fff"},{"offset":0.5,"color":"#fff"},
{"offset":0.5,"color":"#000"},{"offset":0.5167,"color":"#000"},{"offset":0.5167,"color":"#fff"},{"offset":0.5417,"color":"#fff"},
{"offset":0.5417,"color":"#000"},{"offset":0.5583,"color":"#000"},{"offset":0.5583,"color":"#fff"},{"offset":0.5833,"color":"#fff"},
{"offset":0.5833,"color":"#000"},{"offset":0.6,"color":"#000"},{"offset":0.6,"color":"#fff"},{"offset":0.625,"color":"#fff"},
{"offset":0.625,"color":"#000"},{"offset":0.6417,"color":"#000"},{"offset":0.6417,"color":"#fff"},{"offset":0.6667,"color":"#fff"},
{"offset":0.6667,"color":"#000"},{"offset":0.6833,"color":"#000"},{"offset":0.6833,"color":"#fff"},{"offset":0.7083,"color":"#fff"},
{"offset":0.7083,"color":"#000"},{"offset":0.725,"color":"#000"},{"offset":0.725,"color":"#fff"},{"offset":0.75,"color":"#fff"},
{"offset":0.75,"color":"#000"},{"offset":0.7667,"color":"#000"},{"offset":0.7667,"color":"#fff"},{"offset":0.7917,"color":"#fff"},
{"offset":0.7917,"color":"#000"},{"offset":0.8083,"color":"#000"},{"offset":0.8083,"color":"#fff"},{"offset":0.8333,"color":"#fff"},
{"offset":0.8333,"color":"#000"},{"offset":0.85,"color":"#000"},{"offset":0.85,"color":"#fff"},{"offset":0.875,"color":"#fff"},
{"offset":0.875,"color":"#000"},{"offset":0.8917,"color":"#000"},{"offset":0.8917,"color":"#fff"},{"offset":0.9167,"color":"#fff"},
{"offset":0.9167,"color":"#000"},{"offset":0.9333,"color":"#000"},{"offset":0.9333,"color":"#fff"},{"offset":0.9583,"color":"#fff"},
{"offset":0.9583,"color":"#000"},{"offset":0.975,"color":"#000"},{"offset":0.975,"color":"#fff"},{"offset":1,"color":"#fff"}]}},"value":"white"}}},
{"data":{"name":"sw"},"mark":{"type":"rect","stroke":"black","strokeWidth":0.9},"encoding":{"x2":{"field":"u2"},"y2":{"field":"age2"},
"fill":{"condition":[
{"test":"datum.kind === 'sand'","value":"#a3a3a3"},
{"test":"datum.kind === 'mmud'","value":"black"},
{"test":"datum.kind === 'cong'","value":{"gradient":"linear","x1":0,"y1":0,"x2":1,"y2":0,"stops":[
{"offset":0,"color":"#fff"},{"offset":0.1,"color":"#fff"},{"offset":0.1,"color":"#000"},{"offset":0.165,"color":"#000"},{"offset":0.165,"color":"#fff"},
{"offset":0.35,"color":"#fff"},{"offset":0.35,"color":"#000"},{"offset":0.415,"color":"#000"},{"offset":0.415,"color":"#fff"},
{"offset":0.6,"color":"#fff"},{"offset":0.6,"color":"#000"},{"offset":0.665,"color":"#000"},{"offset":0.665,"color":"#fff"},
{"offset":0.85,"color":"#fff"},{"offset":0.85,"color":"#000"},{"offset":0.915,"color":"#000"},{"offset":0.915,"color":"#fff"},{"offset":1,"color":"#fff"}]}},
{"test":"datum.kind === 'mud'","value":{"gradient":"linear","x1":0,"y1":0,"x2":0,"y2":1,"stops":[
{"offset":0,"color":"#000"},{"offset":0.12,"color":"#000"},{"offset":0.12,"color":"#fff"},{"offset":0.25,"color":"#fff"},
{"offset":0.25,"color":"#000"},{"offset":0.37,"color":"#000"},{"offset":0.37,"color":"#fff"},{"offset":0.5,"color":"#fff"},
{"offset":0.5,"color":"#000"},{"offset":0.62,"color":"#000"},{"offset":0.62,"color":"#fff"},{"offset":0.75,"color":"#fff"},
{"offset":0.75,"color":"#000"},{"offset":0.87,"color":"#000"},{"offset":0.87,"color":"#fff"},{"offset":1,"color":"#fff"}]}},
{"test":"datum.kind === 'sed'","value":{"gradient":"linear","x1":0,"y1":0,"x2":1,"y2":0,"stops":[
{"offset":0,"color":"#000"},{"offset":0.06,"color":"#000"},{"offset":0.06,"color":"#fff"},{"offset":0.1111,"color":"#fff"},
{"offset":0.1111,"color":"#000"},{"offset":0.1711,"color":"#000"},{"offset":0.1711,"color":"#fff"},{"offset":0.2222,"color":"#fff"},
{"offset":0.2222,"color":"#000"},{"offset":0.2822,"color":"#000"},{"offset":0.2822,"color":"#fff"},{"offset":0.3333,"color":"#fff"},
{"offset":0.3333,"color":"#000"},{"offset":0.3933,"color":"#000"},{"offset":0.3933,"color":"#fff"},{"offset":0.4444,"color":"#fff"},
{"offset":0.4444,"color":"#000"},{"offset":0.5044,"color":"#000"},{"offset":0.5044,"color":"#fff"},{"offset":0.5556,"color":"#fff"},
{"offset":0.5556,"color":"#000"},{"offset":0.6156,"color":"#000"},{"offset":0.6156,"color":"#fff"},{"offset":0.6667,"color":"#fff"},
{"offset":0.6667,"color":"#000"},{"offset":0.7267,"color":"#000"},{"offset":0.7267,"color":"#fff"},{"offset":0.7778,"color":"#fff"},
{"offset":0.7778,"color":"#000"},{"offset":0.8378,"color":"#000"},{"offset":0.8378,"color":"#fff"},{"offset":0.8889,"color":"#fff"},
{"offset":0.8889,"color":"#000"},{"offset":0.9489,"color":"#000"},{"offset":0.9489,"color":"#fff"},{"offset":1,"color":"#fff"}]}}
],"value":"white"}}},
{"data":{"name":"sw"},"transform":[{"filter":"datum.kind === 'cong'"}],"mark":{"type":"rect","stroke":"black","strokeWidth":0.9,"fill":{"gradient":"linear","x1":0,"y1":0,"x2":0,"y2":1,"stops":[
{"offset":0,"color":"#fff"},{"offset":0.2,"color":"#fff"},{"offset":0.2,"color":"rgba(255,255,255,0)"},{"offset":0.35,"color":"rgba(255,255,255,0)"},{"offset":0.35,"color":"#fff"},
{"offset":0.66,"color":"#fff"},{"offset":0.66,"color":"rgba(255,255,255,0)"},{"offset":0.81,"color":"rgba(255,255,255,0)"},{"offset":0.81,"color":"#fff"},{"offset":1,"color":"#fff"}]}},"encoding":{"x2":{"field":"u2"},"y2":{"field":"age2"}}},
{"data":{"name":"epochs"},"mark":{"type":"text","angle":270,"align":"center","baseline":"middle","fontSize":25,"font":"Liberation Sans"},"encoding":{"text":{"field":"t"}}},
{"data":{"name":"lab"},"transform":[{"filter":"datum.role === 'head'"}],"mark":{"type":"text","align":"left","baseline":"alphabetic","fontSize":37.5,"font":"Liberation Sans"},"encoding":{"text":{"field":"t"}}},
{"data":{"name":"lab"},"transform":[{"filter":"datum.role === 'sub'"}],"mark":{"type":"text","align":"left","baseline":"alphabetic","fontSize":24,"font":"Liberation Sans"},"encoding":{"text":{"field":"t"}}},
{"data":{"name":"lab"},"transform":[{"filter":"datum.role === 'col'"}],"mark":{"type":"text","align":"left","baseline":"alphabetic","fontSize":25,"font":"Liberation Sans"},"encoding":{"text":{"field":"t"}}},
{"data":{"name":"lab"},"transform":[{"filter":"datum.role === 'lh'"}],"mark":{"type":"text","align":"left","baseline":"alphabetic","fontSize":30,"font":"Liberation Sans"},"encoding":{"text":{"field":"t"}}},
{"data":{"name":"lab"},"transform":[{"filter":"datum.role === 'li'"}],"mark":{"type":"text","align":"left","baseline":"alphabetic","fontSize":20,"font":"Liberation Sans"},"encoding":{"text":{"field":"t"}}},
{"data":{"name":"lab"},"transform":[{"filter":"datum.role === 'ri'"}],"mark":{"type":"text","align":"left","baseline":"alphabetic","fontSize":20,"font":"Liberation Sans"},"encoding":{"text":{"field":"t"}}}
]
}
